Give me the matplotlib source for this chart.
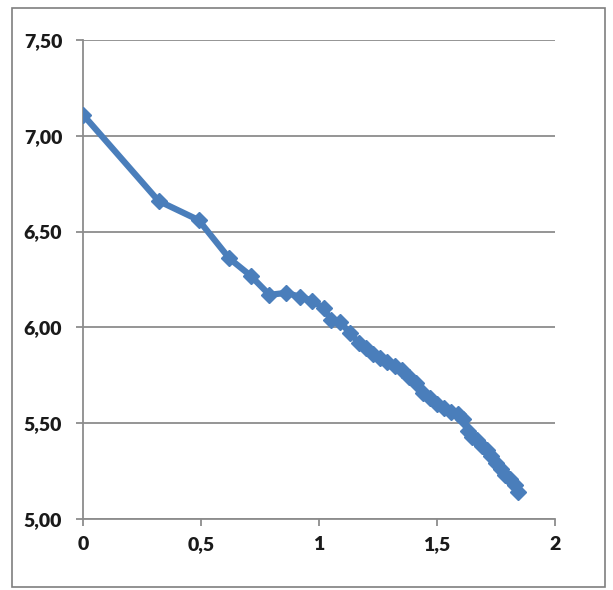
import matplotlib.pyplot as plt
from matplotlib.patches import Rectangle

# values
x_vals = [0, 0.32, 0.49, 0.62, 0.71, 0.79, 0.86, 0.92, 0.97, 1.02, 1.05, 1.09,
          1.13, 1.17, 1.20, 1.23, 1.26, 1.29, 1.32, 1.35, 1.38, 1.41, 1.44,
          1.47, 1.50, 1.53, 1.56, 1.59, 1.61, 1.63, 1.65, 1.67, 1.69, 1.71,
          1.73, 1.75, 1.77, 1.79, 1.81, 1.83, 1.845]
y_vals = [7.11, 6.66, 6.56, 6.36, 6.27, 6.17, 6.18, 6.16, 6.14, 6.10, 6.04, 6.03,
          5.97, 5.92, 5.89, 5.86, 5.84, 5.82, 5.80, 5.78, 5.74, 5.71, 5.66,
          5.63, 5.60, 5.58, 5.56, 5.55, 5.52, 5.46, 5.43, 5.41, 5.38, 5.36,
          5.33, 5.29, 5.26, 5.23, 5.21, 5.18, 5.14]

x_ticks = [0, 0.5, 1, 1.5, 2]
x_labels = ['0', '0,5', '1', '1,5', '2']
y_ticks = [5.0, 5.5, 6.0, 6.5, 7.0, 7.5]
y_labels = ['5,00', '5,50', '6,00', '6,50', '7,00', '7,50']

line_col = '#4a7ebb'
grid_col = '#8c8c8c'

fig = plt.figure(figsize=(6.13, 5.90), dpi=100)
ax = fig.add_axes([0.1354, 0.1203, 0.770, 0.812])

# outer chart frame
fig.patches.append(Rectangle((0.0196, 0.005), 0.967, 0.981, transform=fig.transFigure,
                             fill=False, edgecolor='#7f7f7f', linewidth=1.2))

ax.plot(x_vals, y_vals, color=line_col, linewidth=4.5, marker='D',
        markersize=8.5, markerfacecolor=line_col, markeredgecolor=line_col,
        solid_joinstyle='round', zorder=3)

ax.set_xlim(0, 2)
ax.set_ylim(5.0, 7.5)
ax.set_xticks(x_ticks)
ax.set_xticklabels(x_labels)
ax.set_yticks(y_ticks)
ax.set_yticklabels(y_labels)

ax.grid(axis='y', color=grid_col, linewidth=1.3)
ax.set_axisbelow(True)
for s in ['top', 'right']:
    ax.spines[s].set_visible(False)
for s in ['left', 'bottom']:
    ax.spines[s].set_color(grid_col)
    ax.spines[s].set_linewidth(1.3)

ax.tick_params(axis='both', direction='out', length=5, width=1.3, color=grid_col,
               labelsize=14, labelcolor='#1a1a1a')
ax.tick_params(axis='y', pad=10)
ax.tick_params(axis='x', pad=7)
for lab in ax.get_xticklabels() + ax.get_yticklabels():
    lab.set_family('Lato')
    lab.set_fontweight('heavy')

fig.savefig('out.png', dpi=100)
